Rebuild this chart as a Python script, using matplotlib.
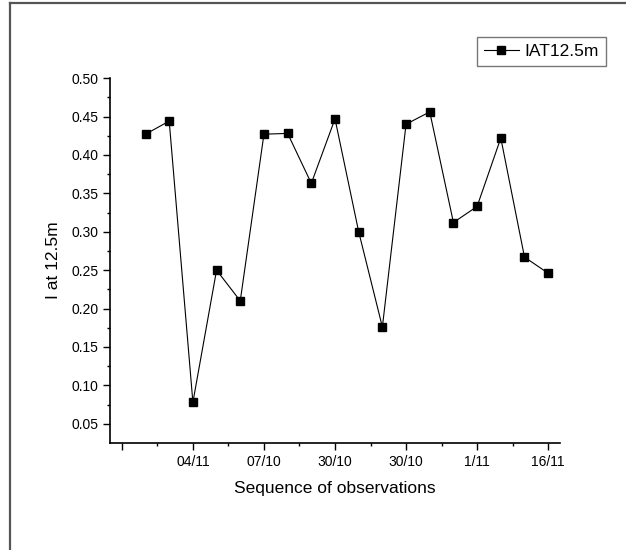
"""
Sequence of observations, I at 12.5m
"""
import numpy as np
import matplotlib.pyplot as plt
from matplotlib.lines import Line2D

plt.rcParams['font.family'] = ['Liberation Sans', 'DejaVu Sans']

obs = np.arange(1, 19)
iat = [0.427, 0.444, 0.078, 0.250, 0.210, 0.427, 0.428, 0.363, 0.447,
       0.300, 0.176, 0.440, 0.456, 0.312, 0.333, 0.422, 0.267, 0.246]
tick_pos = [0, 3, 6, 9, 12, 15, 18]
tick_labels = ['', '04/11', '07/10', '30/10', '30/10', '1/11', '16/11']

fig = plt.figure(figsize=(6.26, 5.5), dpi=100)
ax = fig.add_axes([0.1757, 0.1945, 0.7189, 0.6635])

ax.plot(obs, iat, 'k-', lw=0.8, marker='s', markersize=5.5, label='IAT12.5m')

ax.set_xlim(-0.5, 18.5)
ax.set_ylim(0.025, 0.50)
ax.set_xticks(tick_pos)
ax.set_xticklabels(tick_labels)
ax.set_xticks(np.arange(1.5, 18, 3), minor=True)
ax.set_yticks(np.arange(0.05, 0.501, 0.05))
ax.set_yticks(np.arange(0.075, 0.5, 0.05), minor=True)
ax.yaxis.set_major_formatter(plt.FormatStrFormatter('%.2f'))

for s in ['top', 'right']:
    ax.spines[s].set_visible(False)
for s in ['left', 'bottom']:
    ax.spines[s].set_linewidth(1.2)
ax.tick_params(which='major', length=5, width=1, labelsize=10, direction='out')
ax.tick_params(which='minor', length=2.5, width=1, direction='out')

ax.set_xlabel('Sequence of observations', fontsize=12.5, labelpad=9)
ax.set_ylabel('I at 12.5m', fontsize=12.5, labelpad=7)

leg = ax.legend(loc='upper right', bbox_to_anchor=(606 / 626, 1 - 37 / 550),
                bbox_transform=fig.transFigure, borderaxespad=0, fontsize=12.5,
                fancybox=False, handlelength=2.0, borderpad=0.4, handletextpad=0.35)
leg.get_frame().set_edgecolor('#555555')
leg.get_frame().set_linewidth(1.0)

# outer frame (only left and top edges show)
fig.add_artist(Line2D([9.5 / 626, 9.5 / 626], [0, 1 - 3 / 550], color='#555555', lw=1.6,
                      transform=fig.transFigure))
fig.add_artist(Line2D([9.5 / 626, 1], [1 - 3 / 550, 1 - 3 / 550], color='#555555', lw=1.6,
                      transform=fig.transFigure))

plt.savefig('out.png', dpi=100)
